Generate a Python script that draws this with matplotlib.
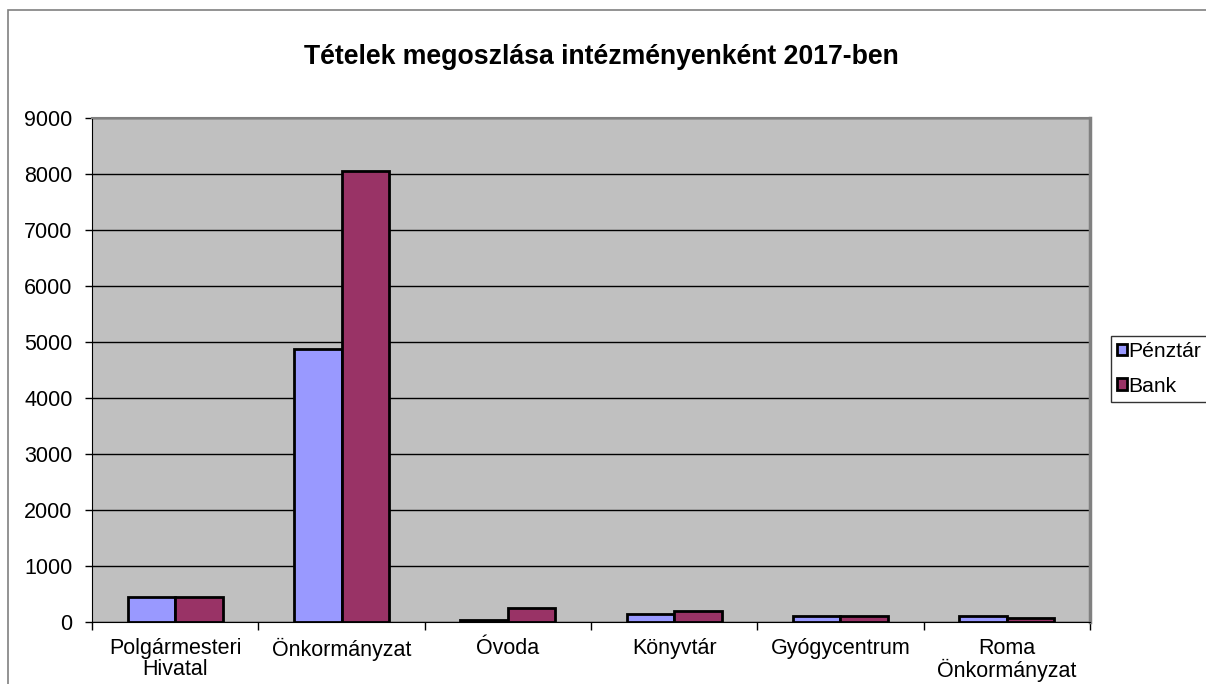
import numpy as np
import matplotlib
matplotlib.use('Agg')
import matplotlib.pyplot as plt
from matplotlib.patches import Rectangle

plt.rcParams['font.family'] = ['Liberation Sans', 'DejaVu Sans']

# data
categories = ['Polgármesteri\nHivatal', 'Önkormányzat', 'Óvoda', 'Könyvtár', 'Gyógycentrum', 'Roma\nÖnkormányzat']
penztar = [445, 4880, 40, 140, 115, 115]
bank = [440, 8050, 250, 195, 110, 70]
series_names = ['Pénztár', 'Bank']
yticks = [0, 1000, 2000, 3000, 4000, 5000, 6000, 7000, 8000, 9000]

fig = plt.figure(figsize=(12.06, 6.84), dpi=100)
ax = fig.add_axes([92 / 1206, 1 - 622 / 684, (1090 - 92) / 1206, (622 - 118) / 684])

# outer chart border (cut off at right and bottom like the screenshot)
fig.patches.append(Rectangle((8 / 1206, -0.1), 1.2, 1 - 10 / 684 + 0.1, transform=fig.transFigure,
                             fill=False, edgecolor='#808080', linewidth=1.2))

x = np.arange(len(categories))
w = 1 / 3.5
ax.set_facecolor('#C0C0C0')
ax.set_axisbelow(True)
ax.bar(x - w / 2, penztar, w, color='#9999FF', edgecolor='black', linewidth=2, label=series_names[0], zorder=3)
ax.bar(x + w / 2, bank, w, color='#993366', edgecolor='black', linewidth=2, label=series_names[1], zorder=3)

ax.set_xlim(-0.5, len(categories) - 0.5)
ax.set_ylim(0, 9000)
ax.set_yticks(yticks)
ax.yaxis.grid(True, color='black', linewidth=1)
ax.tick_params(axis='y', labelsize=15.5, length=5, direction='out', width=1, pad=9)

# category ticks on the boundaries, labels in the middle
ax.set_xticks(np.arange(len(categories) + 1) - 0.5)
ax.set_xticklabels([])
ax.set_xticks(x, minor=True)
ax.set_xticklabels(categories, minor=True, fontsize=15.5, linespacing=1.0)
ax.tick_params(axis='x', which='major', length=6, width=1, direction='out')
ax.tick_params(axis='x', which='minor', length=0, pad=11.5)

ax.spines['left'].set_color('black')
ax.spines['bottom'].set_color('black')
ax.spines['top'].set_color('#808080')
ax.spines['right'].set_color('#808080')
ax.spines['right'].set_linewidth(2.5)
ax.spines['top'].set_linewidth(1.5)

fig.text(601 / 1206, 1 - 57 / 684, 'Tételek megoszlása intézményenként 2017-ben',
         ha='center', va='center', fontsize=19.2, fontweight='bold')

leg = fig.legend(loc='upper left', bbox_to_anchor=(1111 / 1206, 1 - 336 / 684), fontsize=15.2,
                 frameon=True, fancybox=False, edgecolor='black', handlelength=0.45, handleheight=0.45,
                 handletextpad=0.08, borderaxespad=0, borderpad=0.3, labelspacing=0.72)
leg.get_frame().set_linewidth(1)

fig.savefig('out.png', dpi=100)
